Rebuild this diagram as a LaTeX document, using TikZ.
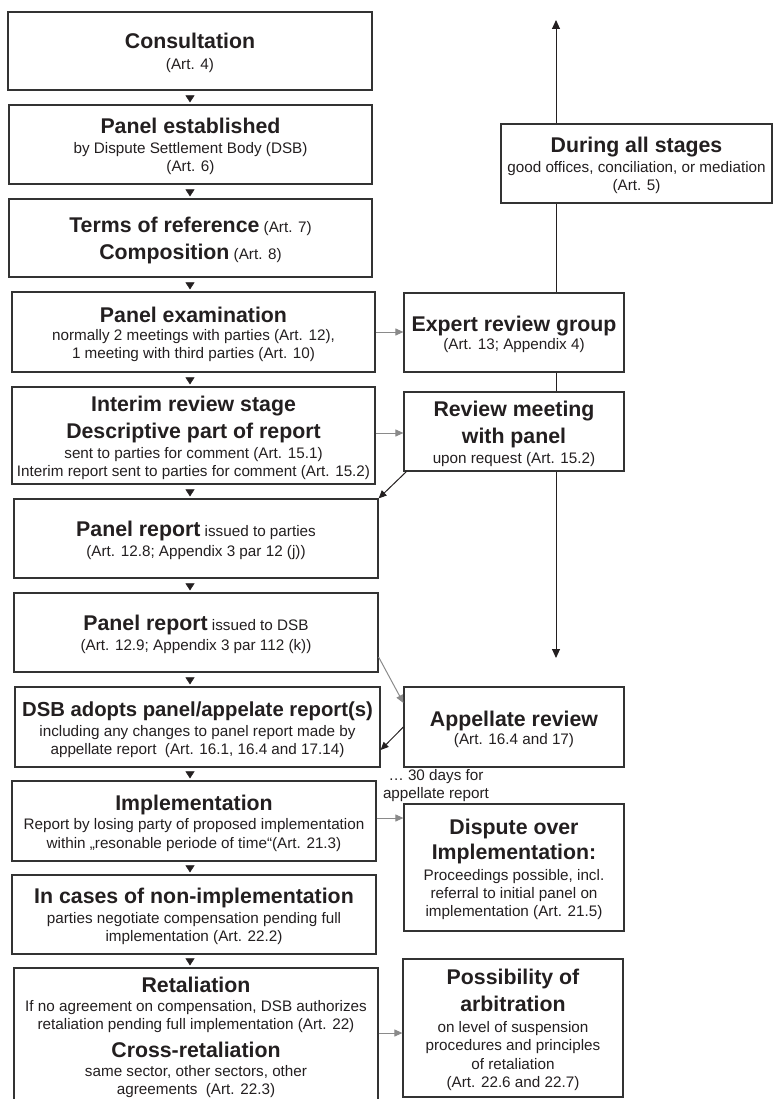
\documentclass[tikz,border=0pt]{standalone}
\usepackage{fontspec}
\setmainfont{Liberation Sans}
\usetikzlibrary{arrows.meta,calc}
\definecolor{ink}{HTML}{231F20}
\definecolor{frame}{HTML}{333333}
\definecolor{link}{HTML}{8A8A8A}
% bold heading line inside a stage box (the strut gives the first row a taller top)
\newcommand\hd[2][21.3]{{\fontsize{#1}{#1}\selectfont\bfseries\rule{0pt}{20pt}#2}}
\tikzset{
  stage/.style={draw=frame, line width=1.2pt, fill=white, text=ink, align=center,
    inner sep=0pt, font=\fontsize{15.25}{18}\selectfont},
  box/.style 2 args={minimum width=#1pt, minimum height=#2pt},
  note/.style={text=ink, align=center, inner sep=0pt,
    font=\fontsize{15.25}{18}\selectfont},
  flowtip/.style={white, line width=0.5pt, shorten <=1.5pt, shorten >=2pt,
    -{Triangle[color=ink, width=9pt, length=7pt]}},
  sidearrow/.style={draw=link, line width=1pt, -{Triangle[width=7pt, length=8pt]}},
  backarrow/.style={draw=ink, line width=1pt, -{Triangle[width=7pt, length=8pt]}},
  spanarrow/.style={draw=ink, line width=1pt,
    {Triangle[width=8pt, length=9pt]}-{Triangle[width=8pt, length=9pt]}},
}
\begin{document}
\begin{tikzpicture}[x=1pt, y=-1pt]
% fixed line pitch in every multi-line box
\lineskiplimit=-30pt\relax
\lineskip=0pt\relax
\useasboundingbox (0,0) rectangle (773,1099);

% the "during all stages" line runs behind the right-hand boxes
\coordinate (up) at (556,20);
\coordinate (down) at (556,658);
\draw[spanarrow] (up) -- (down);

% main sequence
\node[stage, box={364}{78}] (cons) at (190,51) {\hd{Consultation}\\[3pt](Art. 4)};
\node[stage, box={363}{79}] (est) at (190.5,144.5)
  {\hd{Panel established}\\[2pt]by Dispute Settlement Body (DSB)\\(Art. 6)};
\node[stage, box={363}{78}] (terms) at (190.5,238)
  {\hd{Terms of reference} (Art. 7)\\[8.5pt]\hd{Composition} (Art. 8)};
\node[stage, box={363}{80}] (exam) at (193.5,332)
  {\hd{Panel examination}\\normally 2 meetings with parties (Art. 12),\\1 meeting with third parties (Art. 10)};
\node[stage, box={363}{97}] (interim) at (193.5,435.5)
  {\hd{Interim review stage}\\[8.5pt]\hd{Descriptive part of report}\\[2pt]sent to parties for comment (Art. 15.1)\\Interim report sent to parties for comment (Art. 15.2)};
\node[stage, box={364}{79}] (repP) at (196,538.5)
  {\hd{Panel report} issued to parties\\[2pt](Art. 12.8; Appendix 3 par 12 (j))};
\node[stage, box={364}{79}] (repD) at (196,632.5)
  {\hd{Panel report} issued to DSB\\[2pt](Art. 12.9; Appendix 3 par 112 (k))};
\node[stage, box={365}{80}] (adopt) at (197.5,727)
  {\hd[20.3]{DSB adopts panel/appelate report(s)}\\[2pt]including any changes to panel report made by\\appellate report\ \ (Art. 16.1, 16.4 and 17.14)};
\node[stage, box={364}{80}] (impl) at (194,821)
  {\hd{Implementation}\\[1pt]Report by losing party of proposed implementation\\[1pt]within „resonable periode of time“(Art. 21.3)};
\node[stage, box={364}{79}] (nonimpl) at (194,914.5)
  {\hd{In cases of non-implementation}\\[2pt]parties negotiate compensation pending full\\implementation (Art. 22.2)};
\node[stage, box={364}{134}] (retal) at (196,1035)
  {\hd{Retaliation}\\[1pt]If no agreement on compensation, DSB authorizes\\retaliation pending full implementation (Art. 22)\\[10pt]\hd{Cross-retaliation}\\[1.5pt]same sector, other sectors, other\\agreements\ \ (Art. 22.3)};

% side procedures
\node[stage, box={271}{79}] (during) at (636.5,163.5)
  {\hd{During all stages}\\[2pt]good offices, conciliation, or mediation\\(Art. 5)};
\node[stage, box={220}{79}] (expert) at (514,332.5)
  {\hd{Expert review group}\\(Art. 13; Appendix 4)};
\node[stage, box={220}{79}] (review) at (514,431.5)
  {\hd{Review meeting}\\[8.5pt]\hd{with panel}\\[2pt]upon request (Art. 15.2)};
\node[stage, box={220}{80}] (appel) at (514,727)
  {\hd{Appellate review}\\(Art. 16.4 and 17)};
\node[stage, box={220}{127}] (dispute) at (514,867.5)
  {\hd{Dispute over}\\[7pt]\hd{Implementation:}\\[3pt]Proceedings possible, incl.\\referral to initial panel on\\implementation (Art. 21.5)};
\node[stage, box={220}{138}] (arb) at (513,1028)
  {\hd{Possibility of}\\[8.5pt]\hd{arbitration}\\[3pt]on level of suspension\\[0.5pt]procedures and principles\\[0.5pt]of retaliation\\[0.5pt](Art. 22.6 and 22.7)};

\node[note] (days) at (436,786) {… 30 days for\\appellate report};

% downward steps of the main sequence
\coordinate (col) at (190,0);
\foreach \a/\b in {cons/est, est/terms, terms/exam, exam/interim, interim/repP,
                   repP/repD, repD/adopt, adopt/impl, impl/nonimpl, nonimpl/retal}
  \draw[flowtip] (\a.south -| col) -- (\b.north -| col);

% links to the side procedures
\draw[sidearrow] (exam.east) -- (exam.east -| expert.west);
\draw[sidearrow] ([yshift=2.5pt]interim.east) -- ([yshift=2.5pt]interim.east -| review.west);
\draw[backarrow] ([xshift=3pt]review.south west) -- (repP.north east);
\draw[sidearrow] ([yshift=-24.5pt]repD.east) -- ([yshift=24pt]appel.west);
\draw[backarrow] (appel.west) -- ([yshift=-23pt]adopt.east);
\draw[sidearrow] ([yshift=3pt]impl.east) -- ([yshift=3pt]impl.east -| dispute.west);
\draw[sidearrow] ([yshift=2pt]retal.east) -- ([yshift=2pt]retal.east -| arb.west);
\end{tikzpicture}
\end{document}
